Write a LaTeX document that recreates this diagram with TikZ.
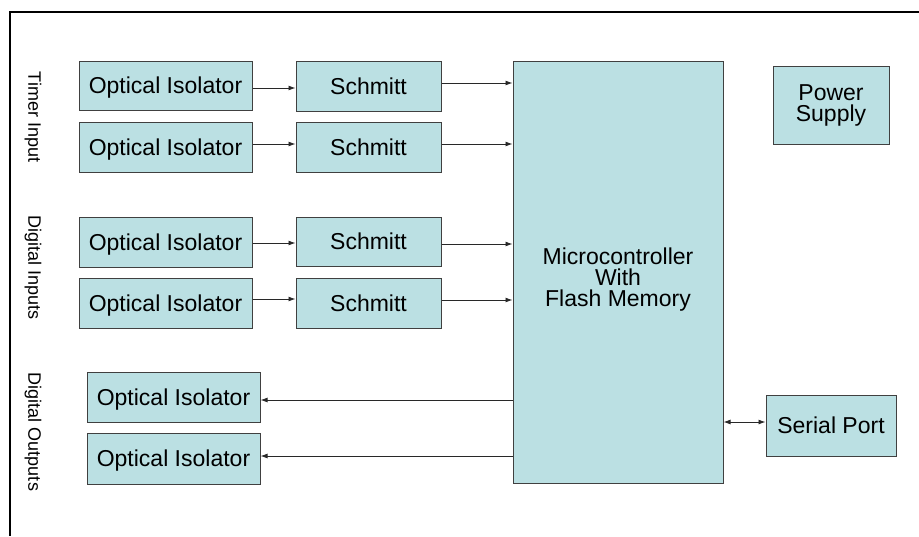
\documentclass[tikz,border=0pt]{standalone}
\usepackage{fontspec}
\setmainfont{Liberation Sans}
\usetikzlibrary{arrows.meta}
\definecolor{boxfill}{RGB}{187,224,227}
\definecolor{boxline}{RGB}{64,64,64}
\definecolor{arrline}{RGB}{40,40,40}
\tikzset{
  blk/.style={draw=boxline, fill=boxfill, line width=1pt, inner sep=0pt, align=center,
    font=\fontsize{23}{21}\selectfont},
  oneline/.style={text height=16.5pt, text depth=0pt},
  arr/.style={draw=arrline, line width=0.9pt, -{Latex[length=7pt,width=5pt]}},
  darr/.style={draw=arrline, line width=0.9pt, {Latex[length=7pt,width=5pt]}-{Latex[length=7pt,width=5pt]}},
  grp/.style={rotate=-90, font=\fontsize{18}{20}\selectfont, inner sep=0pt},
  frame/.style={draw=black, line width=2pt}
}
\begin{document}
\begin{tikzpicture}[x=1pt, y=-1pt]
\useasboundingbox (0,0) rectangle (919,536);
% frame
\coordinate (fa) at (919,12);
\coordinate (fb) at (10,12);
\coordinate (fc) at (10,536);
\draw[frame] (fa) -- (fb) -- (fc);
% group labels
\node[grp] (lt) at (33,117) {Timer Input};
\node[grp] (ld) at (33,268) {Digital Inputs};
\node[grp] (lo) at (33,432) {Digital Outputs};
% optical isolators
\node[blk, oneline, minimum width=173pt, minimum height=49pt] (oi1) at (165.5,85.5) {Optical Isolator};
\node[blk, oneline, minimum width=173pt, minimum height=50pt] (oi2) at (165.5,147) {Optical Isolator};
\node[blk, oneline, minimum width=173pt, minimum height=50pt] (oi3) at (165.5,242) {Optical Isolator};
\node[blk, oneline, minimum width=173pt, minimum height=50pt] (oi4) at (165.5,303) {Optical Isolator};
\node[blk, oneline, minimum width=173pt, minimum height=50pt] (oi5) at (173.5,397) {Optical Isolator};
\node[blk, oneline, minimum width=173pt, minimum height=51pt] (oi6) at (173.5,458.5) {Optical Isolator};
% schmitt
\node[blk, oneline, minimum width=145pt, minimum height=50pt] (s1) at (368.5,86) {Schmitt};
\node[blk, oneline, minimum width=145pt, minimum height=50pt] (s2) at (368.5,147) {Schmitt};
\node[blk, oneline, minimum width=145pt, minimum height=49pt] (s3) at (368.5,241.5) {Schmitt};
\node[blk, oneline, minimum width=145pt, minimum height=50pt] (s4) at (368.5,303) {Schmitt};
% microcontroller
\node[blk, minimum width=210pt, minimum height=422pt] (mc) at (618,272) {};
\node[font=\fontsize{23}{21}\selectfont, align=center, inner sep=0pt] (mct) at (618,280) {Microcontroller\\With\\Flash Memory};
% power and serial
\node[blk, minimum width=116pt, minimum height=78pt] (ps) at (831,105) {Power\\Supply};
\node[blk, oneline, minimum width=130pt, minimum height=61pt] (sp) at (831,425.5) {Serial Port};
% arrows isolator -> schmitt
\draw[arr] ([yshift=-2.5pt]oi1.east) -- ([yshift=-2.5pt]oi1.east -| s1.west);
\draw[arr] ([yshift=3pt]oi2.east) -- ([yshift=3pt]oi2.east -| s2.west);
\draw[arr] ([yshift=-1pt]oi3.east) -- ([yshift=-1pt]oi3.east -| s3.west);
\draw[arr] ([yshift=4pt]oi4.east) -- ([yshift=4pt]oi4.east -| s4.west);
% schmitt -> mc
\draw[arr] ([yshift=3pt]s1.east) -- ([yshift=3pt]s1.east -| mc.west);
\draw[arr] ([yshift=3pt]s2.east) -- ([yshift=3pt]s2.east -| mc.west);
\draw[arr] ([yshift=-2.5pt]s3.east) -- ([yshift=-2.5pt]s3.east -| mc.west);
\draw[arr] ([yshift=3pt]s4.east) -- ([yshift=3pt]s4.east -| mc.west);
% mc -> outputs
\draw[arr] ([yshift=-3pt]oi5.east -| mc.west) -- ([yshift=-3pt]oi5.east);
\draw[arr] ([yshift=2.5pt]oi6.east -| mc.west) -- ([yshift=2.5pt]oi6.east);
% mc <-> serial
\draw[darr] ([yshift=3.5pt]sp.west -| mc.east) -- ([yshift=3.5pt]sp.west);
\end{tikzpicture}
\end{document}
